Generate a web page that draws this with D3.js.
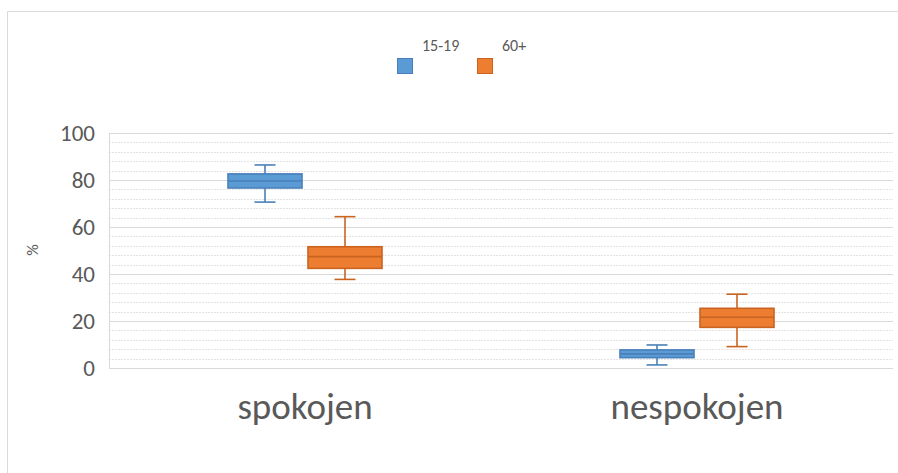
<!DOCTYPE html>
<html><head><meta charset="utf-8">
<script src="https://cdn.jsdelivr.net/npm/d3@7/dist/d3.min.js"></script>
<style>body{margin:0;background:#fff;}svg{display:block;font-family:Carlito,"Open Sans","Noto Sans",sans-serif;}</style>
</head><body>
<svg id="chart" width="898" height="473"></svg>
<script>
const categories = ["spokojen", "nespokojen"];
const seriesNames = ["15-19", "60+"];
// [min, q1, median, q3, max]
const series1519 = [[70.6, 76.6, 79.6, 82.6, 86.4], [1.3, 4.4, 6.0, 7.7, 9.8]];
const series60 = [[37.7, 42.4, 47.4, 51.6, 64.4], [9.1, 17.3, 21.6, 25.4, 31.4]];
const yTicks = [0, 20, 40, 60, 80, 100];
const yLabel = "%";

const colors = {fill: ["#5b9bd5", "#ed7d31"], stroke: ["#4a80b9", "#c8641f"]};
const svg = d3.select("#chart");
const W = 898, H = 473;

// outer chart border
svg.append("path").attr("d", `M7.5,${H}V11.5H${W}`).attr("fill", "none").attr("stroke", "#d9d9d9").attr("stroke-width", 1);

const plotL = 109, plotR = 893, plotT = 133, plotB = 368;
const y = d3.scaleLinear().domain([0, 100]).range([plotB, plotT]);
const x = d3.scaleBand().domain(categories).range([plotL, plotR]);
const xs = d3.scaleBand().domain(seriesNames).range([-77, 77]).paddingInner(0.075);

// minor gridlines
const minor = d3.range(0, 101, 4).filter(v => v % 20 !== 0);
svg.append("g").selectAll("line").data(minor).join("line")
  .attr("x1", plotL).attr("x2", plotR).attr("y1", d => Math.round(y(d)) + 0.5).attr("y2", d => Math.round(y(d)) + 0.5)
  .attr("stroke", "#e3e3e3").attr("stroke-width", 1).attr("stroke-dasharray", "2,1");
// major gridlines
svg.append("g").selectAll("line").data(yTicks).join("line")
  .attr("x1", plotL).attr("x2", plotR).attr("y1", d => Math.round(y(d)) + 0.5).attr("y2", d => Math.round(y(d)) + 0.5)
  .attr("stroke", "#d9d9d9").attr("stroke-width", 1.2);
svg.append("line").attr("x1", plotL + 0.5).attr("x2", plotL + 0.5).attr("y1", y(100)).attr("y2", y(0))
  .attr("stroke", "#d9d9d9");

// y axis labels
const yAxis = d3.axisLeft(y).tickValues(yTicks).tickSize(0).tickPadding(14);
const ga = svg.append("g").attr("transform", `translate(${plotL},0)`).call(yAxis);
ga.select(".domain").remove();
ga.selectAll("text").attr("font-size", 23).attr("fill", "#595959").attr("font-family", "Carlito,'Open Sans',sans-serif");

svg.append("text").attr("transform", "translate(38,250) rotate(-90)").attr("text-anchor", "middle")
  .attr("font-size", 16).attr("fill", "#595959").text(yLabel);

// x labels
svg.append("g").selectAll("text").data(categories).join("text")
  .attr("x", d => x(d) + x.bandwidth() / 2).attr("y", 419).attr("text-anchor", "middle")
  .attr("font-size", 37).attr("fill", "#595959").text(d => d);

// boxes
const allSeries = [series1519, series60];
allSeries.forEach((ser, si) => {
  const g = svg.append("g");
  categories.forEach((c, ci) => {
    const [mn, q1, md, q3, mx] = ser[ci];
    const cx = x(c) + x.bandwidth() / 2 + xs(seriesNames[si]) + xs.bandwidth() / 2;
    const bw = xs.bandwidth();
    const cap = 21;
    const st = colors.stroke[si];
    g.append("line").attr("x1", cx).attr("x2", cx).attr("y1", y(mx)).attr("y2", y(q3)).attr("stroke", st).attr("stroke-width", 1.6);
    g.append("line").attr("x1", cx).attr("x2", cx).attr("y1", y(q1)).attr("y2", y(mn)).attr("stroke", st).attr("stroke-width", 1.6);
    g.append("line").attr("x1", cx - cap / 2).attr("x2", cx + cap / 2).attr("y1", y(mx)).attr("y2", y(mx)).attr("stroke", st).attr("stroke-width", 1.6);
    g.append("line").attr("x1", cx - cap / 2).attr("x2", cx + cap / 2).attr("y1", y(mn)).attr("y2", y(mn)).attr("stroke", st).attr("stroke-width", 1.6);
    g.append("rect").attr("x", cx - bw / 2).attr("y", y(q3)).attr("width", bw).attr("height", y(q1) - y(q3))
      .attr("fill", colors.fill[si]).attr("stroke", st).attr("stroke-width", 1.6);
    g.append("line").attr("x1", cx - bw / 2).attr("x2", cx + bw / 2).attr("y1", y(md)).attr("y2", y(md)).attr("stroke", st).attr("stroke-width", 1.6);
  });
});

// legend
const legX = [397, 477];
seriesNames.forEach((n, i) => {
  svg.append("rect").attr("x", legX[i] + 0.5).attr("y", 58.5).attr("width", 15).attr("height", 15)
    .attr("fill", colors.fill[i]).attr("stroke", colors.stroke[i]).attr("stroke-width", 1);
  svg.append("text").attr("x", legX[i] + 25).attr("y", 51).attr("font-size", 16).attr("fill", "#595959").text(n);
});
</script>
</body></html>
